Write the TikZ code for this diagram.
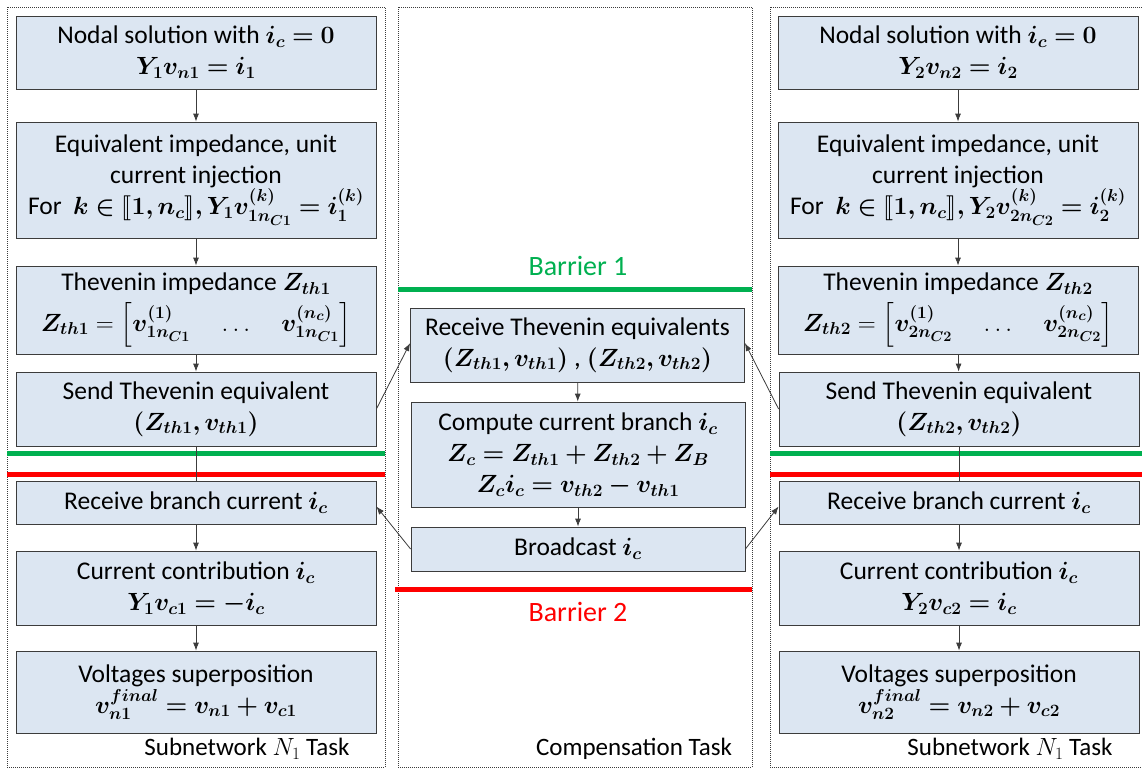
\documentclass[tikz,border=0pt]{standalone}
\usepackage[no-math]{fontspec}
\setmainfont{Carlito}
\usepackage{amsmath,bm}
\usepackage{stmaryrd}
\usetikzlibrary{arrows.meta}

\definecolor{boxblue}{RGB}{220,230,242}
\definecolor{framegray}{RGB}{60,60,60}
\definecolor{barriergreen}{RGB}{0,176,80}
\definecolor{barrierred}{RGB}{255,0,0}

\newcommand{\eqsize}{\fontsize{27}{31}\selectfont}

\tikzset{
  stepbox/.style={draw=framegray, fill=boxblue, line width=0.8pt, align=center,
    inner sep=0pt, minimum width=360pt, font=\fontsize{25.5}{31}\selectfont},
  midbox/.style={stepbox, minimum width=334pt},
  taskframe/.style={draw=framegray, line width=1pt, densely dotted},
  flow/.style={draw=framegray, line width=0.8pt, -{Latex[length=8pt,width=6pt]}},
  barrier/.style={line width=5pt},
  tasklabel/.style={font=\fontsize{25}{28}\selectfont},
  barlabel/.style={font=\fontsize{28}{30}\selectfont}
}

\begin{document}
\begin{tikzpicture}[x=1pt, y=-1pt]
\useasboundingbox (0,0) rectangle (1142,769);

% task frames
\draw[taskframe] (7,7) rectangle (385,767);
\draw[taskframe] (398,7) rectangle (752,767);
\draw[taskframe] (770,7) rectangle (1160,767);

% subnetwork 1
\node[stepbox, minimum height=73pt] (nod1) at (196,52.5) {Nodal solution with {\eqsize$\bm{i_c = 0}$}\\ {\eqsize$\bm{Y_1 v_{n1} = i_1}$}};
\node[stepbox, minimum height=116pt] (eqv1) at (196,180) {Equivalent impedance, unit\\ current injection\\ For\ \ {\eqsize$\bm{k \in \llbracket 1, n_c \rrbracket, Y_1 v^{(k)}_{1n_{C1}} = i^{(k)}_1}$}};
\node[stepbox, minimum height=88pt] (thv1) at (196,310) {Thevenin impedance {\eqsize$\bm{Z_{th1}}$}\\[7pt] {\eqsize$\bm{Z_{th1}} = \Bigl[\bm{v^{(1)}_{1n_{C1}}} \quad \ldots \quad \bm{v^{(n_c)}_{1n_{C1}}}\Bigr]$}};
\node[stepbox, minimum height=74pt] (snd1) at (196,409) {Send Thevenin equivalent\\ {\eqsize$\bm{(Z_{th1}, v_{th1})}$}};
\node[stepbox, minimum height=43pt] (rcv1) at (196,502.5) {Receive branch current {\eqsize$\bm{i_c}$}};
\node[stepbox, minimum height=74pt] (cur1) at (196,588) {Current contribution {\eqsize$\bm{i_c}$}\\ {\eqsize$\bm{Y_1 v_{c1} = -i_c}$}};
\node[stepbox, minimum height=82pt] (vol1) at (196,692) {Voltages superposition\\ {\eqsize$\bm{v^{final}_{n1} = v_{n1} + v_{c1}}$}};
\node[tasklabel] (lab1) at (247,749) {Subnetwork $N_1$ Task};

% compensation
\node[midbox, minimum height=74pt] (rth) at (577.5,345) {Receive Thevenin equivalents\\ {\eqsize$\bm{(Z_{th1}, v_{th1})}$ , $\bm{(Z_{th2}, v_{th2})}$}};
\node[midbox, minimum height=105pt] (cmp) at (578,454.5) {Compute current branch {\eqsize$\bm{i_c}$}\\ {\eqsize$\bm{Z_c = Z_{th1} + Z_{th2} + Z_B}$}\\ {\eqsize$\bm{Z_c i_c = v_{th2} - v_{th1}}$}};
\node[midbox, minimum height=44pt] (bro) at (578,549) {Broadcast {\eqsize$\bm{i_c}$}};
\node[tasklabel] (lab0) at (634,749) {Compensation Task};

% subnetwork 2
\node[stepbox, minimum height=73pt] (nod2) at (958,52.5) {Nodal solution with {\eqsize$\bm{i_c = 0}$}\\ {\eqsize$\bm{Y_2 v_{n2} = i_2}$}};
\node[stepbox, minimum height=116pt] (eqv2) at (958,180) {Equivalent impedance, unit\\ current injection\\ For\ \ {\eqsize$\bm{k \in \llbracket 1, n_c \rrbracket, Y_2 v^{(k)}_{2n_{C2}} = i^{(k)}_2}$}};
\node[stepbox, minimum height=88pt] (thv2) at (958,310) {Thevenin impedance {\eqsize$\bm{Z_{th2}}$}\\[7pt] {\eqsize$\bm{Z_{th2}} = \Bigl[\bm{v^{(1)}_{2n_{C2}}} \quad \ldots \quad \bm{v^{(n_c)}_{2n_{C2}}}\Bigr]$}};
\node[stepbox, minimum height=74pt] (snd2) at (959,409) {Send Thevenin equivalent\\ {\eqsize$\bm{(Z_{th2}, v_{th2})}$}};
\node[stepbox, minimum height=43pt] (rcv2) at (959,502.5) {Receive branch current {\eqsize$\bm{i_c}$}};
\node[stepbox, minimum height=74pt] (cur2) at (959,588) {Current contribution {\eqsize$\bm{i_c}$}\\ {\eqsize$\bm{Y_2 v_{c2} = i_c}$}};
\node[stepbox, minimum height=82pt] (vol2) at (959,692) {Voltages superposition\\ {\eqsize$\bm{v^{final}_{n2} = v_{n2} + v_{c2}}$}};
\node[tasklabel] (lab2) at (1010,749) {Subnetwork $N_1$ Task};

% barriers
\draw[barrier, barriergreen] (7,453) -- (385,453);
\draw[barrier, barriergreen] (398,289) -- (752,289);
\draw[barrier, barriergreen] (770,453) -- (1142,453);
\draw[barrier, barrierred] (7,474) -- (385,474);
\draw[barrier, barrierred] (395,589) -- (752,589);
\draw[barrier, barrierred] (770,474) -- (1142,474);
\node[barlabel, text=barriergreen] (bar1) at (578,266) {Barrier 1};
\node[barlabel, text=barrierred] (bar2) at (578,612) {Barrier 2};

% flow inside each task
\foreach \a/\b in {nod1/eqv1, eqv1/thv1, thv1/snd1, rcv1/cur1, cur1/vol1,
                   nod2/eqv2, eqv2/thv2, thv2/snd2, rcv2/cur2, cur2/vol2,
                   rth/cmp, cmp/bro}
  \draw[flow] (\a) -- (\b);
\draw[draw=framegray, line width=0.8pt] (snd1) -- (rcv1);
\draw[draw=framegray, line width=0.8pt] (snd2) -- (rcv2);

% exchanges between tasks
\draw[flow] (snd1.east) -- ([yshift=2pt]rth.west);
\draw[flow] (snd2.west) -- ([yshift=2pt]rth.east);
\draw[flow] (bro.west) -- ([yshift=-4pt]rcv1.east);
\draw[flow] (bro.east) -- ([yshift=-4pt]rcv2.west);
\end{tikzpicture}
\end{document}
